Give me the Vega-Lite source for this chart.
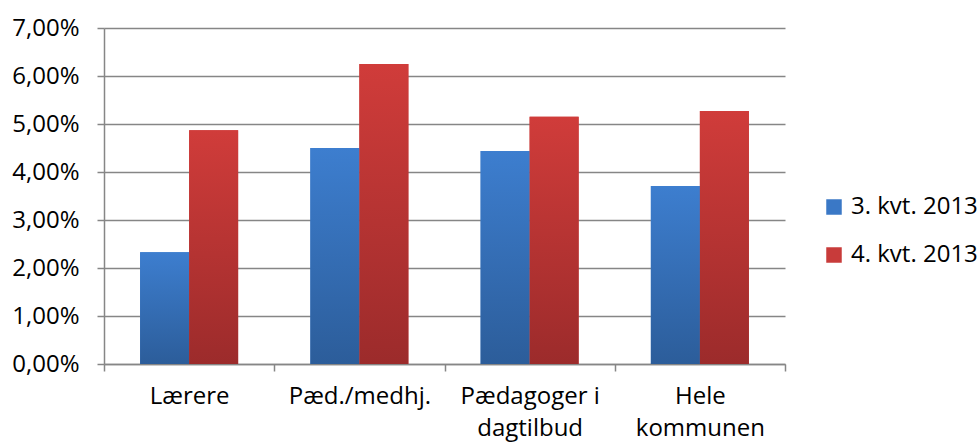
{
  "$schema": "https://vega.github.io/schema/vega-lite/v6.json",
  "width": 681,
  "height": 336,
  "autosize": {"type": "none"},
  "padding": {"left": 104, "top": 28, "right": 192, "bottom": 81},
  "background": "white",
  "config": {
    "view": {"stroke": null},
    "font": "Open Sans",
    "axis": {"labelFont": "Open Sans", "labelColor": "#000000", "domainColor": "#868686", "tickColor": "#868686", "gridColor": "#868686"},
    "legend": {"labelFont": "Open Sans"}
  },
  "data": {
    "values": [
      {"group": "Lærere", "series": "3. kvt. 2013", "value": 0.0233},
      {"group": "Lærere", "series": "4. kvt. 2013", "value": 0.0487},
      {"group": "Pæd./medhj.", "series": "3. kvt. 2013", "value": 0.0450},
      {"group": "Pæd./medhj.", "series": "4. kvt. 2013", "value": 0.0625},
      {"group": "Pædagoger i dagtilbud", "series": "3. kvt. 2013", "value": 0.0444},
      {"group": "Pædagoger i dagtilbud", "series": "4. kvt. 2013", "value": 0.0515},
      {"group": "Hele kommunen", "series": "3. kvt. 2013", "value": 0.0371},
      {"group": "Hele kommunen", "series": "4. kvt. 2013", "value": 0.0527}
    ]
  },
  "encoding": {
    "x": {
      "field": "group",
      "type": "nominal",
      "sort": null,
      "title": null,
      "scale": {"paddingInner": 0, "paddingOuter": 0},
      "axis": {
        "tickBand": "extent",
        "labelAngle": 0,
        "tickSize": 7,
        "tickWidth": 1.5,
        "domainWidth": 1.5,
        "labelFontSize": 24,
        "labelPadding": 13,
        "labelLineHeight": 32,
        "labelBaseline": "top",
        "labelExpr": "datum.value == 'Pædagoger i dagtilbud' ? ['Pædagoger i', 'dagtilbud'] : datum.value == 'Hele kommunen' ? ['Hele', 'kommunen'] : datum.value"
      }
    },
    "xOffset": {
      "field": "series",
      "type": "nominal",
      "scale": {"paddingInner": 0, "paddingOuter": 0.737}
    },
    "y": {
      "field": "value",
      "type": "quantitative",
      "title": null,
      "scale": {"domain": [0, 0.07], "nice": false},
      "axis": {
        "values": [0, 0.01, 0.02, 0.03, 0.04, 0.05, 0.06, 0.07],
        "labelExpr": "replace(format(datum.value, '.2%'), '.', ',')",
        "labelFontSize": 24,
        "tickSize": 7,
        "tickWidth": 1.5,
        "gridWidth": 1.5,
        "domainWidth": 1.5,
        "labelPadding": 18
      }
    }
  },
  "layer": [
    {
      "mark": {"type": "bar"},
      "encoding": {
        "color": {
          "field": "series",
          "type": "nominal",
          "scale": {"range": ["#3A78C6", "#C83B3A"]},
          "legend": {
            "title": null,
            "orient": "none",
            "legendX": 718,
            "legendY": 167,
            "symbolType": "square",
            "symbolSize": 240,
            "symbolStrokeWidth": 0,
            "labelFontSize": 24,
            "labelOffset": 5,
            "rowPadding": 24,
            "labelColor": "#000000"
          }
        }
      }
    },
    {
      "mark": {"type": "bar"},
      "encoding": {
        "fill": {
          "condition": {
            "test": "datum.series === '3. kvt. 2013'",
            "value": {"gradient": "linear", "x1": 0, "y1": 0, "x2": 0, "y2": 1, "stops": [{"offset": 0, "color": "#3D7ECF"}, {"offset": 1, "color": "#2C5D9A"}]}
          },
          "value": {"gradient": "linear", "x1": 0, "y1": 0, "x2": 0, "y2": 1, "stops": [{"offset": 0, "color": "#D03C3A"}, {"offset": 1, "color": "#9C2B2B"}]}
        }
      }
    }
  ]
}
